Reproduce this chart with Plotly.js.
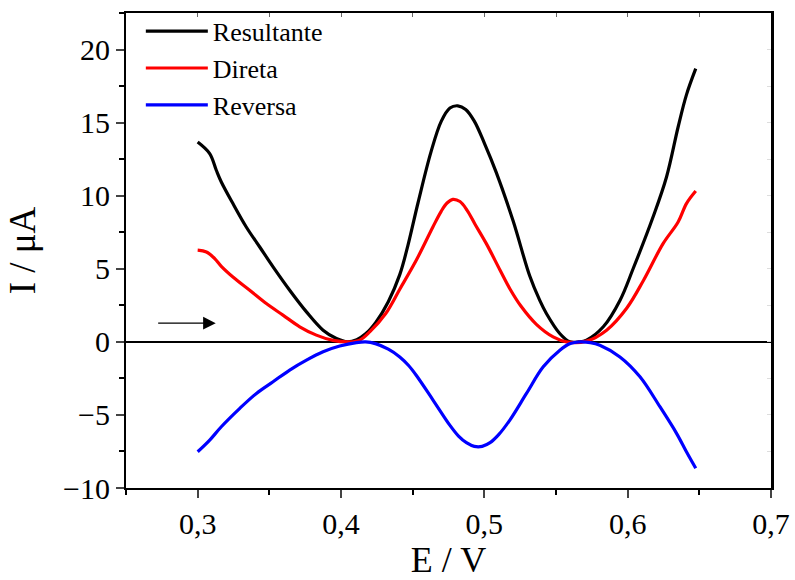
<!DOCTYPE html>
<html>
<head>
<meta charset="utf-8">
<script src="https://cdn.plot.ly/plotly-3.0.1.min.js"></script>
<style>html,body{margin:0;padding:0;background:#fff;}#chart{width:795px;height:580px;}</style>
</head>
<body>
<div id="chart"></div>
<script>
// Resultante (black)
const resE = [0.300,0.3084,0.313,0.3165,0.3246,0.3339,0.3433,0.3526,0.3642,0.3759,0.3875,0.3968,0.4045,0.411,0.4172,0.4244,0.433,0.441,0.4467,0.4537,0.4628,0.470,0.476,0.4815,0.487,0.493,0.500,0.5083,0.520,0.5317,0.5386,0.5433,0.5526,0.5596,0.566,0.5713,0.583,0.5947,0.6038,0.6177,0.6271,0.6352,0.641,0.6475];
const resI = [13.67,12.88,11.74,10.94,9.46,7.86,6.49,5.13,3.53,2.05,0.80,0.23,0.0,0.15,0.55,1.35,2.75,4.6,6.6,9.5,13.0,15.1,16.0,16.15,15.9,15.1,13.6,11.6,8.3,4.5,2.85,1.94,0.57,0.0,0.0,0.12,1.03,2.85,5.0,8.54,11.28,14.7,16.9,18.69];
// Direta (red)
const dirE = [0.300,0.3061,0.3119,0.3165,0.3246,0.3363,0.3479,0.3595,0.3712,0.3828,0.3944,0.4061,0.4131,0.420,0.4312,0.441,0.4525,0.4641,0.470,0.474,0.478,0.483,0.488,0.4935,0.5014,0.511,0.518,0.5255,0.5363,0.548,0.5573,0.5713,0.5853,0.5993,0.611,0.6247,0.6352,0.641,0.6475];
const dirI = [6.27,6.15,5.7,5.17,4.44,3.53,2.62,1.83,1.03,0.46,0.1,0.0,0.12,0.68,1.94,3.6,5.58,7.86,8.95,9.5,9.75,9.6,9.0,8.05,6.72,4.9,3.6,2.45,1.2,0.34,0.0,0.05,0.8,2.3,4.2,6.72,8.2,9.46,10.32];
// Reversa (blue)
const revE = [0.300,0.3084,0.3165,0.3294,0.341,0.3526,0.3642,0.3759,0.3875,0.3991,0.4107,0.4172,0.424,0.433,0.441,0.447,0.4526,0.4642,0.4759,0.482,0.4875,0.493,0.4985,0.504,0.510,0.5178,0.5294,0.5411,0.5527,0.560,0.5667,0.574,0.5806,0.5946,0.6086,0.6225,0.6341,0.641,0.6475];
const revI = [-7.52,-6.72,-5.81,-4.55,-3.53,-2.73,-1.93,-1.25,-0.68,-0.29,-0.05,0.0,-0.12,-0.5,-1.03,-1.6,-2.3,-3.98,-5.7,-6.45,-6.9,-7.15,-7.15,-6.9,-6.35,-5.35,-3.53,-1.71,-0.57,-0.12,0.0,-0.05,-0.23,-1.03,-2.39,-4.44,-6.26,-7.52,-8.65];

const seriesNames = ["Resultante","Direta","Reversa"];
const xTickVals = [0.3,0.4,0.5,0.6,0.7];

const FONT = "Liberation Serif";
const mk = (x,y,name,color)=>({x:x,y:y,name:name,type:"scatter",mode:"lines",
  line:{color:color,width:3.2,shape:"spline",smoothing:1}});
const data = [
  mk(resE,resI,seriesNames[0],"#000000"),
  mk(dirE,dirI,seriesNames[1],"#ff0000"),
  mk(revE,revI,seriesNames[2],"#0000ff"),
  {x:[],y:[],xaxis:"x2",yaxis:"y2",showlegend:false,type:"scatter",mode:"lines"}
];
const layout = {
  width:795,height:580,
  margin:{l:126,r:24,t:13,b:92,autoexpand:false},
  paper_bgcolor:"#fff",plot_bgcolor:"#fff",
  separators:", ",
  font:{family:FONT,color:"#000",size:28},
  showlegend:true,
  legend:{x:0.023,y:1.011,xanchor:"left",yanchor:"top",bgcolor:"rgba(0,0,0,0)",
    font:{family:FONT,size:26,color:"#000"},itemwidth:62,tracegroupgap:0},
  xaxis:{range:[0.25,0.7],tickvals:xTickVals,tickformat:".1f",ticks:"outside",ticklen:8,tickwidth:2,
    showline:true,linewidth:2,linecolor:"#000",showgrid:false,zeroline:false,
    minor:{dtick:0.05,ticks:"outside",ticklen:5,tickwidth:2,tickcolor:"#000"},
    tickfont:{family:FONT,size:30},title:{text:"E / V",font:{family:FONT,size:36},standoff:15}},
  yaxis:{range:[-10,22.5],dtick:5,tick0:0,ticks:"outside",ticklen:8,tickwidth:2,
    showline:true,linewidth:2,linecolor:"#000",showgrid:false,
    zeroline:true,zerolinecolor:"#000",zerolinewidth:2,
    minor:{dtick:2.5,ticks:"outside",ticklen:5,tickwidth:2,tickcolor:"#000"},
    tickfont:{family:FONT,size:30},title:{text:"I / μA",font:{family:FONT,size:37},standoff:16}},
  xaxis2:{overlaying:"x",side:"top",range:[0.25,0.7],dtick:0.05,tick0:0.25,ticks:"inside",ticklen:4,
    tickcolor:"#666",showticklabels:false,showline:true,linewidth:2.5,linecolor:"#000",showgrid:false,zeroline:false},
  yaxis2:{overlaying:"y",side:"right",range:[-10,22.5],dtick:2.5,ticks:"inside",ticklen:4,
    tickcolor:"#ddd",showticklabels:false,showline:true,linewidth:2.5,linecolor:"#000",showgrid:false,zeroline:false},
  annotations:[{x:0.3126,y:1.28,ax:0.2714,ay:1.28,xref:"x",yref:"y",axref:"x",ayref:"y",
    text:"",showarrow:true,arrowhead:2,arrowsize:1.8,arrowwidth:1.4,arrowcolor:"#000"}]
};
Plotly.newPlot("chart",data,layout,{displayModeBar:false,staticPlot:true});
</script>
</body>
</html>
